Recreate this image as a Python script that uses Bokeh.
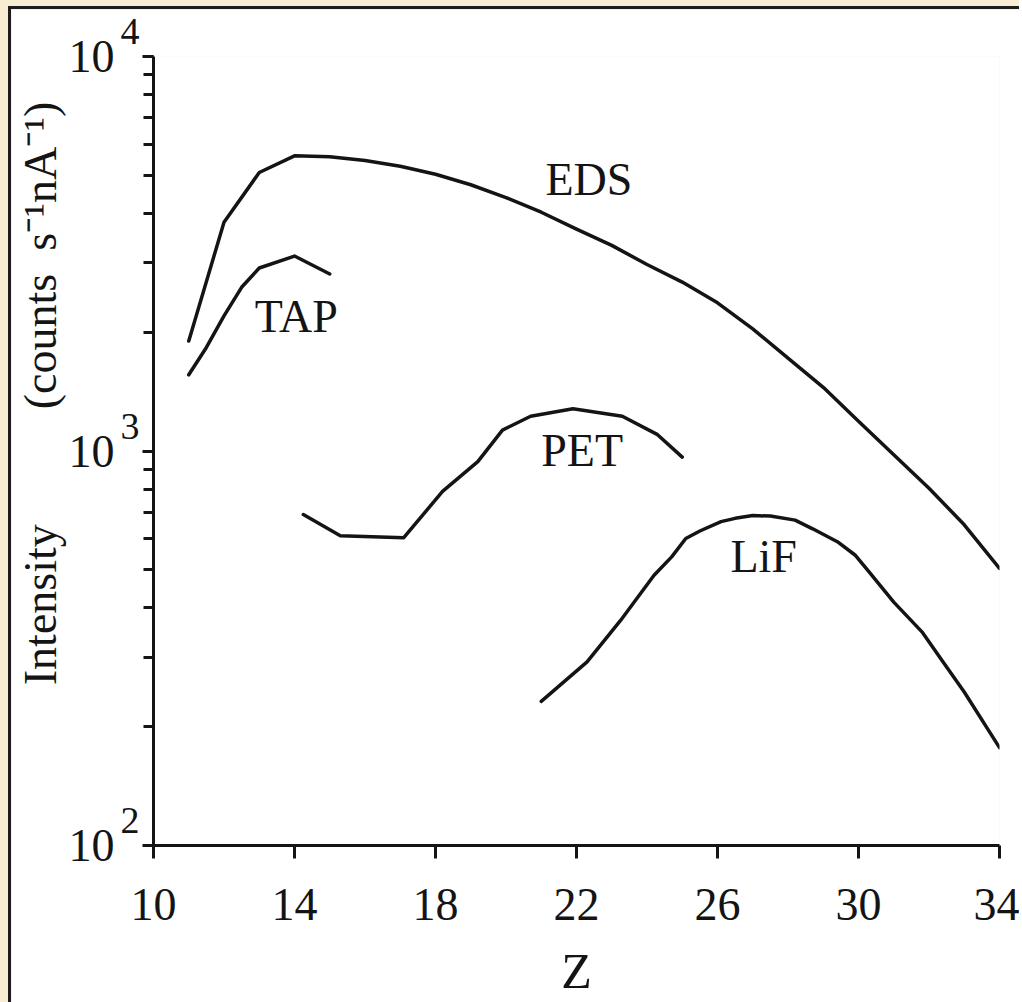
from bokeh.plotting import figure
from bokeh.models import Range1d, FixedTicker, ColumnDataSource, LogAxis, LogTicker, CustomJSTickFormatter
from bokeh.layouts import column
from bokeh.core.properties import value
from bokeh.embed import file_html
from bokeh.resources import INLINE

# ---- data ----
eds_z = [11, 12, 13, 14, 15, 16, 17, 18, 19, 20, 21, 22, 23, 24, 25, 26, 27, 28, 29, 30, 31, 32, 33, 34]
eds_i = [1900, 3800, 5080, 5600, 5570, 5450, 5270, 5030, 4730, 4390, 4030, 3650, 3320, 2970,
         2680, 2375, 2040, 1720, 1450, 1190, 978, 805, 650, 504]

tap_z = [11, 11.5, 12, 12.5, 13, 14, 15]
tap_i = [1560, 1830, 2200, 2600, 2910, 3120, 2810]

pet_z = [14.25, 15.3, 17.1, 18.2, 19.2, 19.9, 20.7, 21.9, 23.3, 24.3, 25]
pet_i = [690, 610, 603, 790, 940, 1130, 1225, 1280, 1225, 1100, 965]

lif_z = [21, 22.3, 23.25, 24.2, 24.7, 25.1, 25.5, 26.1, 26.5, 27.0, 27.5, 28.2, 28.7,
         29.4, 29.9, 30.3, 31.0, 31.8, 32.4, 33.0, 34]
lif_i = [232, 292, 372, 484, 539, 600, 627, 662, 675, 686, 684, 668, 635,
         589, 545, 494, 414, 348, 292, 245, 177]

curve_names = ["EDS", "TAP", "PET", "LiF"]
name_z = [22.35, 14.05, 22.16, 27.31]
name_i = [4866, 2196, 1003, 539]

x_ticks = [10, 14, 18, 22, 26, 30, 34]
x_title = "Z"
y_title = ("\u00a0" * 10 + "Intensity" + "\u00a0" * 10 +
           "(counts\u00a0\u00a0s\u207b\u00b9nA\u207b\u00b9)")

FONT = "Liberation Serif"
INK = "#141414"

p = figure(width=1011, height=1014, y_axis_type="log",
           x_range=Range1d(10, 34), y_range=Range1d(100, 10000),
           output_backend="svg", toolbar_location=None,
           min_border_left=142, min_border_right=23,
           min_border_top=47, min_border_bottom=178,
           background_fill_color="white", border_fill_color="white",
           outline_line_color=None)
p.grid.visible = False

for zz, ii in [(eds_z, eds_i), (tap_z, tap_i), (pet_z, pet_i), (lif_z, lif_i)]:
    p.line(zz, ii, line_width=3.5, line_color=INK, line_join="round", line_cap="round")

src = ColumnDataSource(dict(x=name_z, y=name_i, t=curve_names))
p.text(x="x", y="y", text="t", source=src, text_font=value(FONT),
       text_font_size="46px", text_align="center", text_baseline="alphabetic",
       text_color=INK)

# x axis
xa = p.xaxis[0]
xa.ticker = FixedTicker(ticks=x_ticks, minor_ticks=[])
xa.axis_line_width = 3
xa.axis_line_color = INK
xa.major_tick_line_width = 3
xa.major_tick_line_color = INK
xa.major_tick_in = 0
xa.major_tick_out = 13
xa.major_label_text_font = FONT
xa.major_label_text_font_size = "46px"
xa.major_label_text_color = INK
xa.major_label_standoff = 30
xa.axis_label = x_title
xa.axis_label_text_font = FONT
xa.axis_label_text_font_size = "50px"
xa.axis_label_text_font_style = "normal"
xa.axis_label_text_color = INK
xa.axis_label_standoff = 20

# y axis (nearest): ticks + exponent labels
ya = p.yaxis[0]
ya.axis_line_width = 3
ya.axis_line_color = INK
ya.major_tick_line_width = 3
ya.major_tick_line_color = INK
ya.minor_tick_line_width = 3
ya.minor_tick_line_color = INK
ya.major_tick_in = 0
ya.major_tick_out = 11
ya.minor_tick_in = 0
ya.minor_tick_out = 10
ya.formatter = CustomJSTickFormatter(code="return String(Math.round(Math.log10(tick))) + '\\n ';")
ya.major_label_text_font = FONT
ya.major_label_text_font_size = "38px"
ya.major_label_text_color = INK
ya.major_label_standoff = 3

# second left axis: the "10" mantissas and the title
yb = LogAxis(ticker=LogTicker(),
             formatter=CustomJSTickFormatter(code="return '10';"))
yb.axis_line_color = None
yb.major_tick_out = 0
yb.major_tick_in = 0
yb.minor_tick_out = 0
yb.minor_tick_in = 0
yb.major_label_text_font = FONT
yb.major_label_text_font_size = "46px"
yb.major_label_text_color = INK
yb.major_label_standoff = 3
yb.axis_label = y_title
yb.axis_label_text_font = FONT
yb.axis_label_text_font_size = "46px"
yb.axis_label_text_font_style = "normal"
yb.axis_label_text_color = INK
yb.axis_label_standoff = 0
p.add_layout(yb, "left")

p.styles = {"border-left": "3px solid #1c1c1c", "border-top": "3px solid #1c1c1c",
            "flex-shrink": "0"}
root = column(p, styles={"background-color": "#f8ecd4", "padding-left": "8px",
                         "padding-top": "6px", "height": "1020px", "overflow": "hidden",
                         "position": "fixed", "left": "0px", "top": "0px"})

open("out.html", "w").write(file_html(root, INLINE))
